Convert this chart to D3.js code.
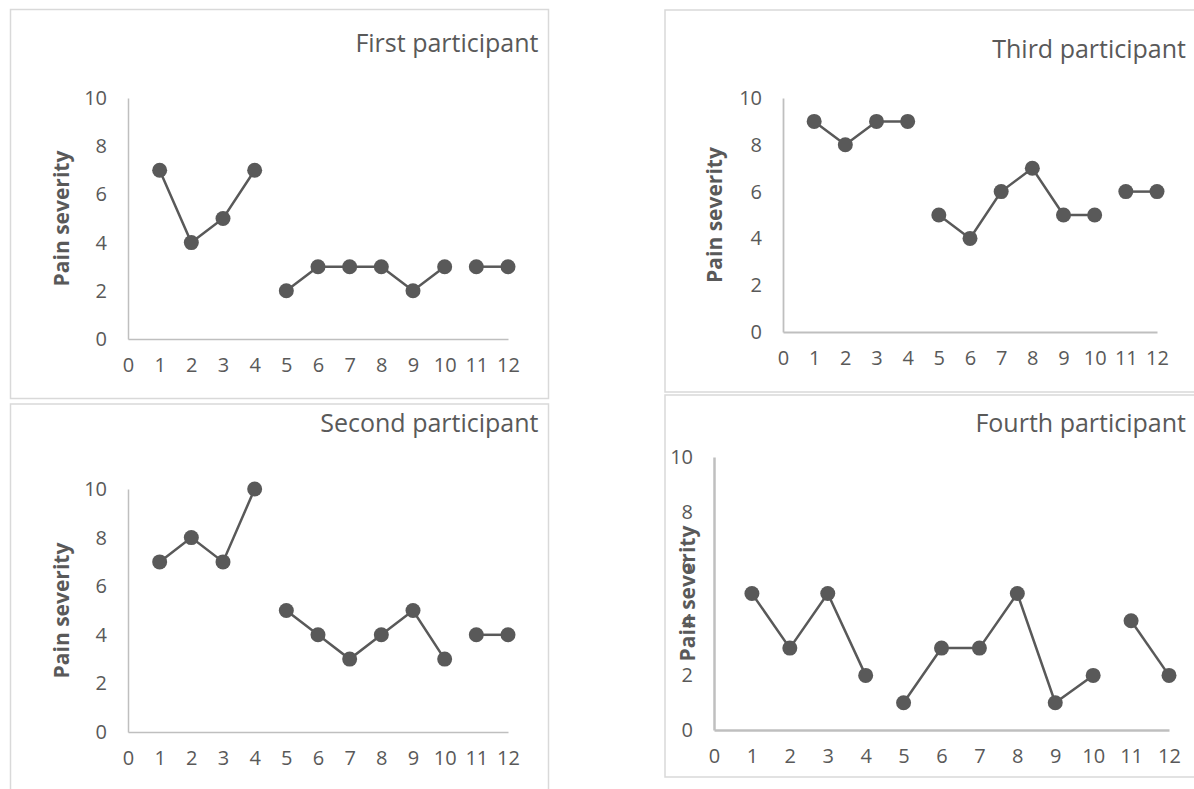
<!DOCTYPE html>
<html>
<head>
<meta charset="utf-8">
<script src="https://cdn.jsdelivr.net/npm/d3@7"></script>
<style>
body { margin: 0; background: #fff; }
svg text { font-family: "Open Sans", "Noto Sans", sans-serif; fill: #595959; }
</style>
</head>
<body>
<svg id="chart" width="1194" height="789"></svg>
<script>
// sessions on the x axis and the pain scores
var sessions = [1, 2, 3, 4, 5, 6, 7, 8, 9, 10, 11, 12];
var phase = [1, 1, 1, 1, 2, 2, 2, 2, 2, 2, 3, 3];   // line breaks between phases
var xTicks = [0, 1, 2, 3, 4, 5, 6, 7, 8, 9, 10, 11, 12];
var yTicks = [0, 2, 4, 6, 8, 10];

var first  = [7, 4, 5, 7, 2, 3, 3, 3, 2, 3, 3, 3];
var second = [7, 8, 7, 10, 5, 4, 3, 4, 5, 3, 4, 4];
var third  = [9, 8, 9, 9, 5, 4, 6, 7, 5, 5, 6, 6];
var fourth = [5, 3, 5, 2, 1, 3, 3, 5, 1, 2, 4, 2];

var titles = ["First participant", "Second participant", "Third participant", "Fourth participant"];

var svg = d3.select("#chart");
var ink = "#595959";

// where each panel sits on the page
var panels = [
  {title: titles[0], values: first,  box: [10.5, 9.5, 538, 389],  plot: [128, 508, 98, 339],  titleY: 52,  yTitleX: 61,  axisW: 1.5},
  {title: titles[1], values: second, box: [10.5, 404, 538, 400],  plot: [128, 508, 489, 732], titleY: 432, yTitleX: 61,  axisW: 1.5},
  {title: titles[2], values: third,  box: [665, 10, 560, 382],    plot: [783, 1157, 98, 332], titleY: 58,  yTitleX: 714, axisW: 1.8},
  {title: titles[3], values: fourth, box: [665, 395, 560, 382],   plot: [714, 1169, 457, 730], titleY: 432, yTitleX: 687, axisW: 2.5}
];

panels.forEach(drawPanel);

function drawPanel(p) {
  var g = svg.append("g");
  var bx = p.box[0], by = p.box[1], bw = p.box[2], bh = p.box[3];

  g.append("rect")
    .attr("x", bx).attr("y", by)
    .attr("width", bw).attr("height", bh)
    .attr("fill", "#fff")
    .attr("stroke", "#d9d9d9")
    .attr("stroke-width", 1.5);

  var x = d3.scaleLinear().domain([0, 12]).range([p.plot[0], p.plot[1]]);
  var y = d3.scaleLinear().domain([0, 10]).range([p.plot[3], p.plot[2]]);

  var xAxis = g.append("g")
    .attr("transform", "translate(0," + p.plot[3] + ")")
    .call(d3.axisBottom(x).tickValues(xTicks).tickSize(0).tickPadding(19).tickSizeOuter(0));

  var yAxis = g.append("g")
    .attr("transform", "translate(" + p.plot[0] + ",0)")
    .call(d3.axisLeft(y).tickValues(yTicks).tickSize(0).tickPadding(21).tickSizeOuter(0));

  [xAxis, yAxis].forEach(function(a) {
    a.select(".domain").attr("stroke", "#bfbfbf").attr("stroke-width", p.axisW);
    a.selectAll("text")
      .style("font-size", "20px")
      .style("font-family", '"Open Sans", sans-serif')
      .attr("fill", ink);
  });

  // title, right aligned in the frame
  g.append("text")
    .attr("x", bx + bw > 1194 ? 1186 : bx + bw - 10)
    .attr("y", p.titleY)
    .attr("text-anchor", "end")
    .style("font-size", "25px")
    .text(p.title);

  g.append("text")
    .attr("transform", "translate(" + p.yTitleX + "," + (p.plot[2] + p.plot[3]) / 2 + ") rotate(-90)")
    .attr("text-anchor", "middle")
    .attr("dominant-baseline", "central")
    .style("font-size", "21px")
    .style("font-weight", "bold")
    .text("Pain severity");

  var pts = sessions.map(function(s, i) {
    return {s: s, v: p.values[i], ph: phase[i]};
  });

  var line = d3.line()
    .x(function(d) { return x(d.s); })
    .y(function(d) { return y(d.v); });

  d3.groups(pts, function(d) { return d.ph; }).forEach(function(grp) {
    g.append("path")
      .datum(grp[1])
      .attr("d", line)
      .attr("fill", "none")
      .attr("stroke", ink)
      .attr("stroke-width", 2.5);
  });

  g.selectAll("circle.pt")
    .data(pts)
    .enter().append("circle")
    .attr("class", "pt")
    .attr("cx", function(d) { return x(d.s); })
    .attr("cy", function(d) { return y(d.v); })
    .attr("r", 7.5)
    .attr("fill", ink);
}
</script>
</body>
</html>
